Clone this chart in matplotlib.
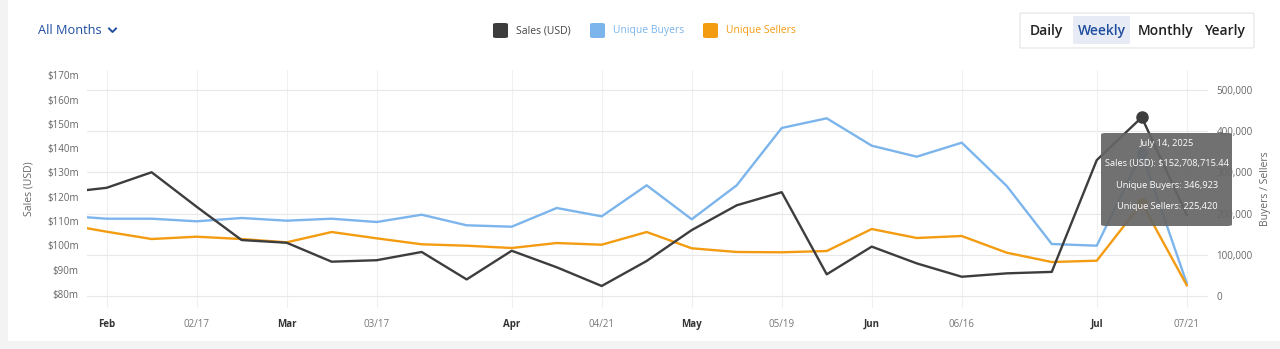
import matplotlib.pyplot as plt
import matplotlib.dates as mdates
from matplotlib.patches import FancyBboxPatch, Rectangle
from matplotlib.lines import Line2D
import numpy as np
import datetime as dt

plt.rcParams['font.family'] = ['Open Sans', 'DejaVu Sans']

# weekly data
dates = ['2025-01-31', '2025-02-03', '2025-02-10', '2025-02-17', '2025-02-24',
         '2025-03-03', '2025-03-10', '2025-03-17', '2025-03-24', '2025-03-31',
         '2025-04-07', '2025-04-14', '2025-04-21', '2025-04-28', '2025-05-05',
         '2025-05-12', '2025-05-19', '2025-05-26', '2025-06-02', '2025-06-09',
         '2025-06-16', '2025-06-23', '2025-06-30', '2025-07-07', '2025-07-14',
         '2025-07-21']
sales = [122.8e6, 123.7e6, 130.1e6, 115.9e6, 102.2e6, 101.1e6, 93.3e6, 93.9e6,
         97.3e6, 86.0e6, 97.8e6, 91.0e6, 83.3e6, 93.6e6, 106.3e6, 116.5e6,
         121.9e6, 88.1e6, 99.5e6, 92.6e6, 87.1e6, 88.5e6, 89.1e6, 135.1e6,
         152708715.44, 112.5e6]
buyers = [191000, 187600, 187600, 181300, 189300, 182800, 187600, 179600,
          197300, 171600, 168200, 213600, 193400, 268700, 186200, 268700,
          407800, 431300, 364800, 338100, 372100, 267000, 126200, 122100,
          346923, 30800]
sellers = [164300, 156100, 138300, 143900, 138300, 130300, 155300, 140000,
           125500, 122100, 116500, 128600, 124500, 155300, 115800, 106800,
           106100, 109200, 162600, 140800, 145600, 105100, 82500, 85700,
           225420, 26000]

tick_dates = ['2025-02-03', '2025-02-17', '2025-03-03', '2025-03-17', '2025-04-07',
              '2025-04-21', '2025-05-05', '2025-05-19', '2025-06-02', '2025-06-16',
              '2025-07-07', '2025-07-21']
tick_labels = ['Feb', '02/17', 'Mar', '03/17', 'Apr', '04/21', 'May', '05/19',
               'Jun', '06/16', 'Jul', '07/21']
hover_idx = 24

C_SALES = '#3d3d3d'
C_BUY = '#7cb5ec'
C_SELL = '#f39c12'
C_NAV = '#1f4e9e'

W, H = 1280, 349
def fx(x): return x / W
def fy(y): return 1 - y / H

x = [dt.datetime.strptime(d, '%Y-%m-%d') for d in dates]
xt = [dt.datetime.strptime(d, '%Y-%m-%d') for d in tick_dates]

fig = plt.figure(figsize=(W / 100, H / 100), dpi=100)
fig.patch.set_facecolor('#f3f3f3')
fig.patches.append(Rectangle((fx(8), fy(341)), fx(1272), 341 / H,
                             transform=fig.transFigure, facecolor='white',
                             edgecolor='none', zorder=-5))

ax = fig.add_axes([fx(87), fy(308), fx(1208 - 87), (308 - 70) / H])
ax2 = ax.twinx()
ax.set_facecolor('none')

ax.set_xlim(mdates.date2num(x[0]) - 0.05,
            mdates.date2num(dt.datetime(2025, 7, 24)) + 0.3)
ax.set_ylim(74.24e6, 172.18e6)
ax2.set_ylim(-29100, 548500)

for a in (ax, ax2):
    for s in a.spines.values():
        s.set_visible(False)

ax.set_xticks(xt)
ax.set_xticklabels(tick_labels)
for lab, t in zip(ax.get_xticklabels(), tick_labels):
    if '/' in t:
        lab.set_color('#777777')
    else:
        lab.set_color('#333333')
        lab.set_fontweight('bold')
ax.tick_params(axis='x', length=0, pad=8, labelsize=7)
ax.grid(axis='x', color='#f0f0f0', lw=0.8)

yt = np.arange(80e6, 171e6, 10e6)
ax.set_yticks(yt)
ax.set_yticklabels(['$%dm' % (v / 1e6) for v in yt])
ax.tick_params(axis='y', length=0, pad=6, labelsize=7, labelcolor='#666666')

ax2.set_yticks(np.arange(0, 500001, 100000))
ax2.set_yticklabels(['{:,}'.format(v) for v in range(0, 500001, 100000)])
ax2.tick_params(axis='y', length=0, pad=6, labelsize=7, labelcolor='#666666')
ax2.grid(axis='y', color='#e8e8e8', lw=0.8)
ax2.set_axisbelow(True)

ax.set_ylabel('Sales (USD)', fontsize=7.5, color='#666666', labelpad=9)
ax2.set_ylabel('Buyers / Sellers', fontsize=7.5, color='#666666', labelpad=5)

ax2.plot(x, buyers, color=C_BUY, lw=1.7, zorder=3)
ax2.plot(x, sellers, color=C_SELL, lw=1.7, zorder=3)
# sales mapped into ax2 coordinates so it sits above the other lines
sales_on2 = ax2.transData.inverted().transform(
    ax.transData.transform(np.column_stack([mdates.date2num(x), sales])))[:, 1]
ax2.plot(x, sales_on2, color=C_SALES, lw=1.7, zorder=4)
ax2.plot(x[hover_idx], buyers[hover_idx], 'o', ms=7, color=C_BUY, zorder=5)
ax2.plot(x[hover_idx], sellers[hover_idx], 'o', ms=7, color=C_SELL, zorder=5)
ax2.plot(x[hover_idx], sales_on2[hover_idx], 'o', ms=8, color=C_SALES, zorder=5)

# tooltip
tip = FancyBboxPatch((fx(1101), fy(226)), fx(1232 - 1101), (226 - 133) / H,
                     boxstyle='round,pad=0,rounding_size=0.004',
                     transform=fig.transFigure, facecolor='#666666',
                     edgecolor='none', alpha=0.93, zorder=10)
fig.patches.append(tip)
tx = fx(1167)
fig.text(tx, fy(143), x[hover_idx].strftime('%B %d, %Y').replace(' 0', ' '),
         color='white', fontsize=6.7, ha='center', va='center', zorder=11)
fig.text(tx, fy(164), 'Sales (USD): ${:,.2f}'.format(sales[hover_idx]),
         color='white', fontsize=6.7, ha='center', va='center', zorder=11)
fig.text(tx, fy(185), 'Unique Buyers: {:,}'.format(buyers[hover_idx]),
         color='white', fontsize=6.7, ha='center', va='center', zorder=11)
fig.text(tx, fy(206), 'Unique Sellers: {:,}'.format(sellers[hover_idx]),
         color='white', fontsize=6.7, ha='center', va='center', zorder=11)

# header: month selector
fig.text(fx(38), fy(31), 'All Months', color=C_NAV, fontsize=9.2,
         ha='left', va='center')
fig.lines.append(Line2D([fx(109), fx(112.5), fx(116)], [fy(28.5), fy(32), fy(28.5)],
                        transform=fig.transFigure, color=C_NAV, lw=1.4))

# legend
for lx, c, name in [(493, C_SALES, 'Sales (USD)'), (590, C_BUY, 'Unique Buyers'),
                    (703, C_SELL, 'Unique Sellers')]:
    fig.patches.append(FancyBboxPatch((fx(lx), fy(38)), fx(15), 15 / H,
                                      boxstyle='round,pad=0,rounding_size=0.003',
                                      transform=fig.transFigure, facecolor=c,
                                      edgecolor='none'))
    fig.text(fx(lx + 23), fy(31), name, fontsize=7.5, ha='left', va='center',
             color='#444444' if c == C_SALES else c)

# period buttons
fig.patches.append(FancyBboxPatch((fx(1020), fy(48)), fx(234), 35 / H,
                                  boxstyle='round,pad=0,rounding_size=0.002',
                                  transform=fig.transFigure, facecolor='white',
                                  edgecolor='#e3e3e3', lw=0.8))
fig.patches.append(FancyBboxPatch((fx(1073), fy(44)), fx(57), 28 / H,
                                  boxstyle='round,pad=0,rounding_size=0.002',
                                  transform=fig.transFigure, facecolor='#e6ebf5',
                                  edgecolor='none'))
for bx, name, c in [(1046, 'Daily', '#222222'), (1102, 'Weekly', C_NAV),
                    (1166, 'Monthly', '#222222'), (1225, 'Yearly', '#222222')]:
    fig.text(fx(bx), fy(31), name, fontsize=10, ha='center', va='center',
             color=c, fontweight='semibold')

fig.savefig('out.png', dpi=100, facecolor=fig.get_facecolor())
